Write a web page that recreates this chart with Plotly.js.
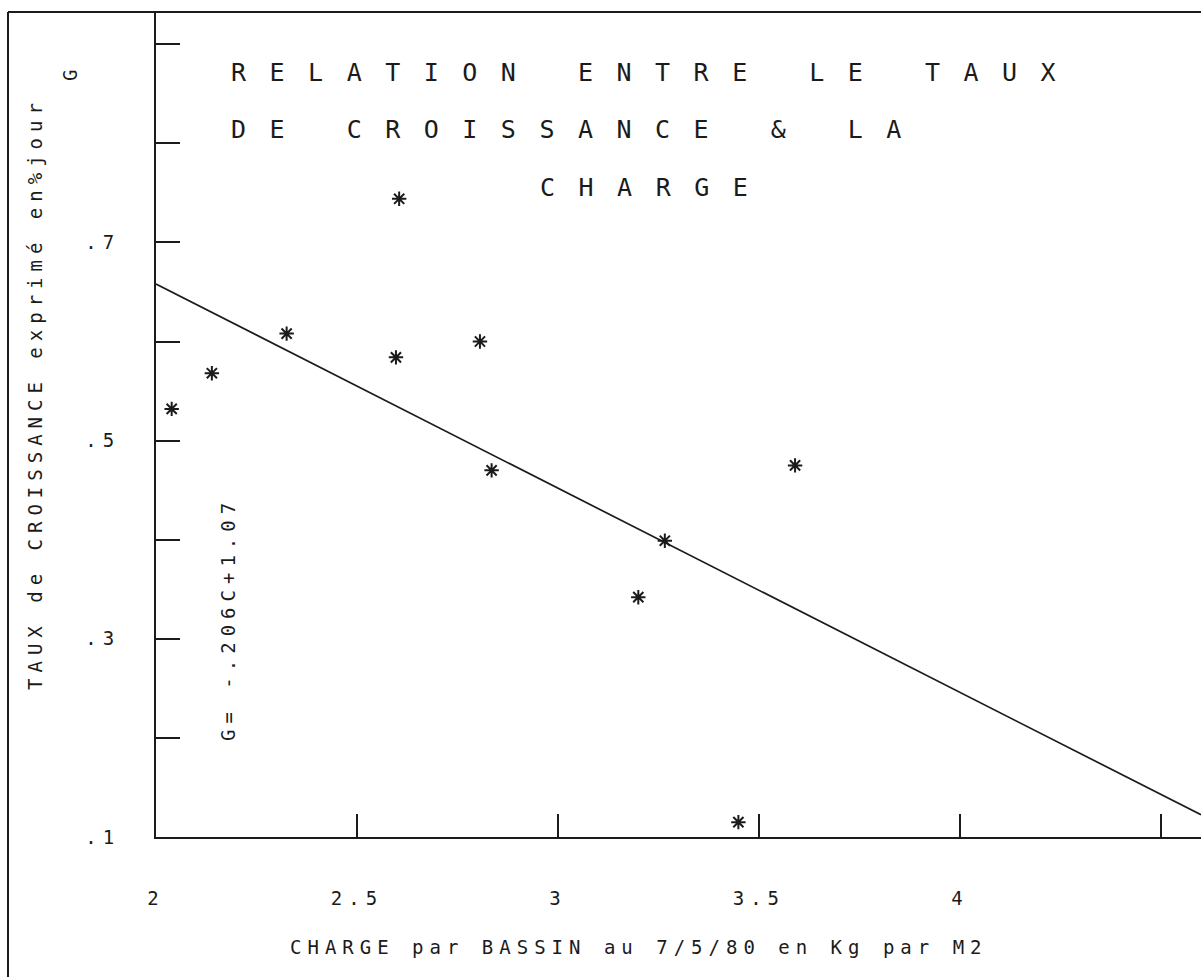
<!DOCTYPE html>
<html>
<head>
<meta charset="utf-8">
<script src="https://cdn.plot.ly/plotly-3.0.1.min.js"></script>
<style>
  html, body { margin: 0; padding: 0; background: #ffffff; }
  #chart { width: 1201px; height: 977px; }
  .xtick text, .ytick text { letter-spacing: 6px; }
  text.annotation-text { letter-spacing: 6px; }
  text.annotation-text[style*="font-size: 25px"] { letter-spacing: 23.5px; }
</style>
</head>
<body>
<div id="chart"></div>
<script>
// ---- data ----
const chargeKgM2     = [2.039, 2.139, 2.325, 2.605, 2.597, 2.806, 2.835, 3.266, 3.200, 3.590, 3.449];
const tauxCroissance = [0.532, 0.568, 0.608, 0.744, 0.584, 0.600, 0.470, 0.399, 0.342, 0.475, 0.115];

// regression G = -.206 C + 1.07
const regSlope = -0.206;
const regIntercept = 1.07;
const regLineC = [2.0, 4.6];

const xTickVals = [2, 2.5, 3, 3.5, 4, 4.5];
const xTickText = ["2", "2.5", "3", "3.5", "4", ""];
const yTickVals = [0.1, 0.2, 0.3, 0.4, 0.5, 0.6, 0.7, 0.8, 0.9];
const yTickText = [".1", "", ".3", "", ".5", "", ".7", "", ""];

const titleLines = ["RELATION ENTRE LE TAUX", "DE CROISSANCE & LA", "CHARGE"];
const xTitle = "CHARGE par BASSIN au 7/5/80 en Kg par M2";
const yTitle = "TAUX de CROISSANCE exprimé en%jour";
const yVarName = "G";
const equationText = "G= -.206C+1.07";

// ---- geometry / style ----
const L = 156, T = 12, W = 1045, H = 825;
const px = p => (p - L) / W;
const py = p => (T + H - p) / H;
const FONT = "DejaVu Sans Mono, monospace";
const INK = "#1b1b1b";

const regLineG = regLineC.map(c => regSlope * c + regIntercept);

const traces = [
  {
    x: regLineC, y: regLineG, type: "scatter", mode: "lines",
    line: { color: INK, width: 1.7 }, hoverinfo: "skip", showlegend: false
  },
  {
    x: chargeKgM2, y: tauxCroissance, type: "scatter", mode: "markers",
    marker: { symbol: "asterisk-open", size: 12, line: { color: INK, width: 2 }, color: INK },
    showlegend: false
  }
];

const small = { family: FONT, size: 19, color: INK };
const big = { family: FONT, size: 25, color: INK };

const annotations = [
  { text: titleLines[0], xref: "paper", yref: "paper", x: px(229), y: py(72), xanchor: "left", yanchor: "middle", showarrow: false, font: big },
  { text: titleLines[1], xref: "paper", yref: "paper", x: px(229), y: py(129), xanchor: "left", yanchor: "middle", showarrow: false, font: big },
  { text: titleLines[2], xref: "paper", yref: "paper", x: px(655), y: py(187), xanchor: "center", yanchor: "middle", showarrow: false, font: big },
  { text: xTitle, xref: "paper", yref: "paper", x: px(639), y: py(947), xanchor: "center", yanchor: "middle", showarrow: false, font: small },
  { text: yTitle, xref: "paper", yref: "paper", x: px(35), y: py(394), xanchor: "center", yanchor: "middle", textangle: -90, showarrow: false, font: small },
  { text: yVarName, xref: "paper", yref: "paper", x: px(70), y: py(73), xanchor: "center", yanchor: "middle", textangle: -90, showarrow: false, font: small },
  { text: equationText, xref: "paper", yref: "paper", x: px(228), y: py(619), xanchor: "center", yanchor: "middle", textangle: -90, showarrow: false, font: small }
];

const layout = {
  width: 1201, height: 977,
  margin: { l: L, r: 1201 - L - W, t: T, b: 977 - T - H, pad: 0 },
  paper_bgcolor: "#ffffff", plot_bgcolor: "#ffffff",
  showlegend: false,
  font: small,
  xaxis: {
    range: [2, 4.6], showgrid: false, zeroline: false,
    showline: true, linecolor: INK, linewidth: 2,
    ticks: "inside", ticklen: 23, tickwidth: 2, tickcolor: INK,
    tickmode: "array", tickvals: xTickVals, ticktext: xTickText,
    tickfont: small, ticklabelstandoff: 43, automargin: false
  },
  yaxis: {
    range: [0.1, 0.9325], showgrid: false, zeroline: false,
    showline: true, linecolor: INK, linewidth: 2,
    ticks: "inside", ticklen: 24, tickwidth: 2, tickcolor: INK,
    tickmode: "array", tickvals: yTickVals, ticktext: yTickText,
    tickfont: small, ticklabelstandoff: 30, automargin: false
  },
  shapes: [
    { type: "line", xref: "paper", yref: "paper", x0: px(8), x1: 1.05, y0: 1, y1: 1, line: { color: INK, width: 2 } },
    { type: "line", xref: "paper", yref: "paper", x0: px(8), x1: px(8), y0: 1, y1: -0.3, line: { color: INK, width: 2 } }
  ],
  annotations: annotations
};

Plotly.newPlot("chart", traces, layout, { displayModeBar: false, staticPlot: true });
</script>
</body>
</html>
